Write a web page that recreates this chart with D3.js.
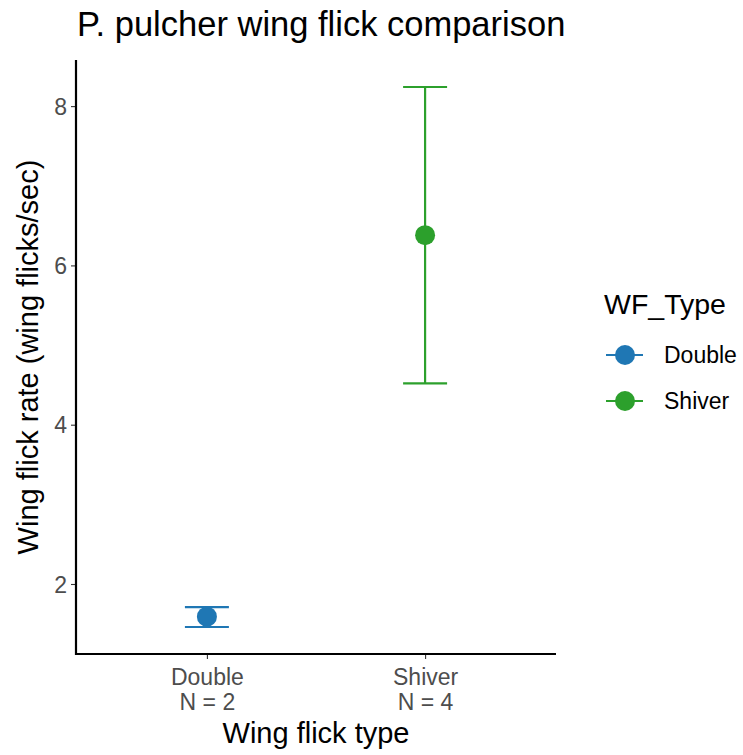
<!DOCTYPE html>
<html>
<head>
<meta charset="utf-8">
<script src="https://cdn.jsdelivr.net/npm/d3@7"></script>
<style>
  html, body { margin: 0; padding: 0; background: #ffffff; }
  svg { display: block; font-family: "Liberation Sans", Arial, Helvetica, sans-serif; }
</style>
</head>
<body>
<svg id="chart" width="743" height="755"></svg>
<script>
// Wing flick rate per flick type: mean with error range
const categories = ["Double", "Shiver"];
const sampleSizes = [2, 4];
const means = [1.59, 6.38];
const lowerBounds = [1.46, 4.52];
const upperBounds = [1.71, 8.24];
const yTicks = [2, 4, 6, 8];
const colors = ["#1f77b4", "#2ca02c"];

const svg = d3.select("#chart");
const panel = { left: 76, right: 556, top: 60, bottom: 654 };

// y domain padded by 5% of the data range, as in the default expansion
const lo = d3.min(lowerBounds), hi = d3.max(upperBounds);
const pad = (hi - lo) * 0.05;
const y = d3.scaleLinear().domain([lo - pad, hi + pad]).range([panel.bottom, panel.top]);

const x = d3.scalePoint().domain(categories)
  .range([panel.left, panel.right]).padding(0.6);

// Axes
const yAxis = svg.append("g")
  .attr("transform", `translate(${panel.left},0)`)
  .call(d3.axisLeft(y).tickValues(yTicks).tickSize(5).tickPadding(4).tickFormat(d3.format("d")));
yAxis.select(".domain").remove();
yAxis.selectAll(".tick line").attr("stroke", "#333333").attr("stroke-width", 1.1);
yAxis.selectAll(".tick text").attr("fill", "#4d4d4d").style("font-size", "23px")
  .attr("dy", "0.36em");

const xAxis = svg.append("g")
  .attr("transform", `translate(0,${panel.bottom})`)
  .call(d3.axisBottom(x).tickSize(5).tickFormat(""));
xAxis.select(".domain").remove();
xAxis.selectAll(".tick line").attr("stroke", "#333333").attr("stroke-width", 1.1);
xAxis.selectAll(".tick").each(function(d, i) {
  const t = d3.select(this).append("text")
    .attr("fill", "#4d4d4d").attr("text-anchor", "middle").style("font-size", "23px");
  t.append("tspan").attr("x", 0).attr("y", 31).text(d);
  t.append("tspan").attr("x", 0).attr("y", 56).text("N = " + sampleSizes[i]);
});

// Axis lines
svg.append("line").attr("x1", panel.left).attr("x2", panel.left)
  .attr("y1", panel.top).attr("y2", panel.bottom + 1)
  .attr("stroke", "#000").attr("stroke-width", 2.2);
svg.append("line").attr("x1", panel.left - 1).attr("x2", panel.right)
  .attr("y1", panel.bottom).attr("y2", panel.bottom)
  .attr("stroke", "#000").attr("stroke-width", 2.2);

// Error bars
const capHalf = 22;
const bars = svg.append("g").selectAll("g").data(categories).join("g")
  .attr("stroke", (d, i) => colors[i]).attr("stroke-width", 2.2).attr("fill", "none");
bars.append("line")
  .attr("x1", d => x(d)).attr("x2", d => x(d))
  .attr("y1", (d, i) => y(upperBounds[i])).attr("y2", (d, i) => y(lowerBounds[i]));
bars.append("line")
  .attr("x1", d => x(d) - capHalf).attr("x2", d => x(d) + capHalf)
  .attr("y1", (d, i) => y(upperBounds[i])).attr("y2", (d, i) => y(upperBounds[i]));
bars.append("line")
  .attr("x1", d => x(d) - capHalf).attr("x2", d => x(d) + capHalf)
  .attr("y1", (d, i) => y(lowerBounds[i])).attr("y2", (d, i) => y(lowerBounds[i]));

// Mean points
svg.append("g").selectAll("circle").data(categories).join("circle")
  .attr("cx", d => x(d)).attr("cy", (d, i) => y(means[i]))
  .attr("r", 10).attr("fill", (d, i) => colors[i]);

// Titles
svg.append("text").attr("x", 77).attr("y", 36)
  .style("font-size", "34.5px").attr("fill", "#000")
  .text("P. pulcher wing flick comparison");
svg.append("text").attr("x", (panel.left + panel.right) / 2).attr("y", 743)
  .attr("text-anchor", "middle").style("font-size", "29px").attr("fill", "#000")
  .text("Wing flick type");
svg.append("text")
  .attr("transform", `translate(37.5,${(panel.top + panel.bottom) / 2}) rotate(-90)`)
  .attr("text-anchor", "middle").style("font-size", "29px").attr("fill", "#000")
  .text("Wing flick rate (wing flicks/sec)");

// Legend
const legend = svg.append("g").attr("transform", "translate(604,0)");
legend.append("text").attr("x", 0).attr("y", 314)
  .style("font-size", "28.5px").attr("fill", "#000").text("WF_Type");
const keys = legend.selectAll("g.key").data(categories).join("g")
  .attr("class", "key")
  .attr("transform", (d, i) => `translate(0,${355 + i * 46})`);
keys.append("line").attr("x1", 2).attr("x2", 39).attr("y1", 0).attr("y2", 0)
  .attr("stroke", (d, i) => colors[i]).attr("stroke-width", 2.2);
keys.append("circle").attr("cx", 21).attr("cy", 0).attr("r", 10)
  .attr("fill", (d, i) => colors[i]);
keys.append("text").attr("x", 60).attr("y", 8)
  .style("font-size", "23px").attr("fill", "#000").text(d => d);
</script>
</body>
</html>
